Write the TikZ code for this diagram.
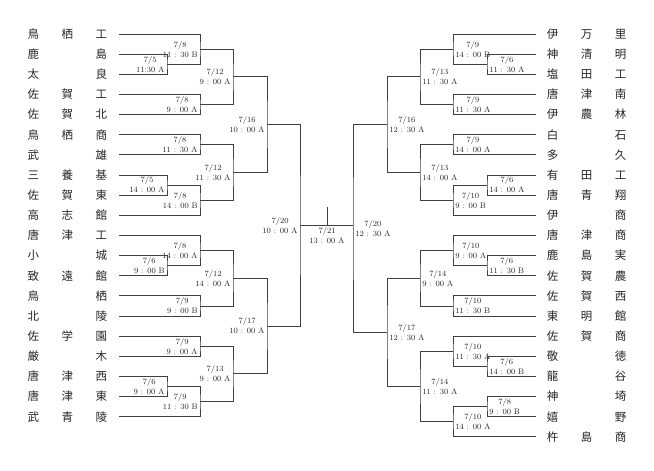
\documentclass[tikz,border=0pt]{standalone}
\usepackage{fontspec}
\newfontfamily\jpfont{Noto Sans CJK JP}
\usepackage{tikz}
\newcommand{\trio}[3]{\makebox[34pt]{#1}\makebox[34pt]{#2}\makebox[34pt]{#3}}
\begin{document}
\begin{tikzpicture}[x=1pt,y=-1pt,
    team/.style={inner sep=0pt,text=black!85,font=\jpfont\fontsize{11.5}{12}\selectfont,text height=10pt,text depth=1.2pt},
    lbl/.style={inner sep=2.2pt,align=center,text=black!85,font=\fontsize{8}{10}\selectfont},
    bk/.style={draw=black!75,line width=0.75pt}]
  \useasboundingbox (0,0) rectangle (654,471);

  \foreach \i/\a/\b/\c in {1/鳥/栖/工, 2/鹿//島, 3/太//良, 4/佐/賀/工, 5/佐/賀/北,
      6/鳥/栖/商, 7/武//雄, 8/三/養/基, 9/佐/賀/東, 10/高/志/館,
      11/唐/津/工, 12/小//城, 13/致/遠/館, 14/鳥//栖, 15/北//陵,
      16/佐/学/園, 17/厳//木, 18/唐/津/西, 19/唐/津/東, 20/武/青/陵}
    \node[team,anchor=east] (L\i) at (118.5,{34+(\i-1)*20.14}) {\trio{\a}{\b}{\c}};
  \foreach \i/\a/\b/\c in {1/伊/万/里, 2/神/清/明, 3/塩/田/工, 4/唐/津/南, 5/伊/農/林,
      6/白//石, 7/多//久, 8/有/田/工, 9/唐/青/翔, 10/伊//商,
      11/唐/津/商, 12/鹿/島/実, 13/佐/賀/農, 14/佐/賀/西, 15/東/明/館,
      16/佐/賀/商, 17/敬//徳, 18/龍//谷, 19/神//埼, 20/嬉//野, 21/杵/島/商}
    \node[team,anchor=west] (R\i) at (535.5,{34+(\i-1)*20.14}) {\trio{\a}{\b}{\c}};

  \foreach \n/\x/\y/\d/\t in {la1/167/64.21/5/11:30 A, lb1/200/49.10/8/11 : 30 B,
      lb2/200/104.49/8/9 : 00 A, lc1/233/76.80/12/9 : 00 A, lb3/200/144.77/8/11 : 30 A,
      la2/167/185.05/5/14 : 00 A, lb4/200/200.16/8/14 : 00 B, lc2/233/172.46/12/11 : 30 A,
      ld1/267/124.63/16/10 : 00 A, la3/167/265.61/6/9 : 00 B, lb5/200/250.50/8/14 : 00 A,
      lb6/200/305.89/9/9 : 00 B, lc3/233/278.20/12/14 : 00 A, lb7/200/346.17/9/9 : 00 A,
      la4/167/386.45/6/9 : 00 A, lb8/200/401.56/9/11 : 30 B, lc4/233/373.86/13/9 : 00 A,
      ld2/267/326.03/17/10 : 00 A, le/300/225.33/20/10 : 00 A}
    {\coordinate (\n) at (\x,\y);
     \node[lbl,anchor=east] (\n-t) at (\n) {7/\d\\\t};}
  \foreach \n/\x/\y/\d/\t in {ra1/487/64.21/6/11 : 30 A, rb1/453/49.10/9/14 : 00 B,
      rb2/453/104.49/9/11 : 30 A, rc1/420/76.80/13/11 : 30 A, rb3/453/144.77/9/14 : 00 A,
      ra2/487/185.05/6/14 : 00 A, rb4/453/200.16/10/9 : 00 B, rc2/420/172.46/13/14 : 00 A,
      rd1/387/124.63/16/12 : 30 A, ra3/487/265.61/6/11 : 30 B, rb5/453/250.50/10/9 : 00 A,
      rb6/453/305.89/10/11 : 30 B, rc3/420/278.20/14/9 : 00 A, ra4/487/366.31/6/14 : 00 B,
      rb7/453/351.20/10/11 : 30 A, ra5/487/406.59/8/9 : 00 B, rb8/453/421.70/10/14 : 00 A,
      rc4/420/386.45/14/11 : 30 A, rd2/387/332.33/17/12 : 30 A, re/353/228.48/20/12 : 30 A}
    {\coordinate (\n) at (\x,\y);
     \node[lbl,anchor=west] (\n-t) at (\n) {7/\d\\\t};}

  \foreach \m/\p/\q in {la1/L2.east/L3.east, lb1/L1.east/la1, lb2/L4.east/L5.east,
      lc1/lb1/lb2, lb3/L6.east/L7.east, la2/L8.east/L9.east, lb4/la2/L10.east,
      lc2/lb3/lb4, ld1/lc1/lc2, la3/L12.east/L13.east, lb5/L11.east/la3,
      lb6/L14.east/L15.east, lc3/lb5/lb6, lb7/L16.east/L17.east, la4/L18.east/L19.east,
      lb8/la4/L20.east, lc4/lb7/lb8, ld2/lc3/lc4, le/ld1/ld2,
      ra1/R2.west/R3.west, rb1/R1.west/ra1, rb2/R4.west/R5.west, rc1/rb1/rb2,
      rb3/R6.west/R7.west, ra2/R8.west/R9.west, rb4/ra2/R10.west, rc2/rb3/rb4,
      rd1/rc1/rc2, ra3/R12.west/R13.west, rb5/R11.west/ra3, rb6/R14.west/R15.west,
      rc3/rb5/rb6, ra4/R17.west/R18.west, rb7/R16.west/ra4, ra5/R19.west/R20.west,
      rb8/ra5/R21.west, rc4/rb7/rb8, rd2/rc3/rc4, re/rd1/rd2}
    \draw[bk] (\p) -| (\m) |- (\q);

  \coordinate (fin) at (327,225.33);
  \coordinate (fintop) at (327,207);
  \draw[bk] (le) -- (le -| re);
  \draw[bk] (fin) -- (fintop);
  \node[lbl,anchor=north] (fin-t) at (fin) {7/21\\13 : 00 A};
\end{tikzpicture}
\end{document}
